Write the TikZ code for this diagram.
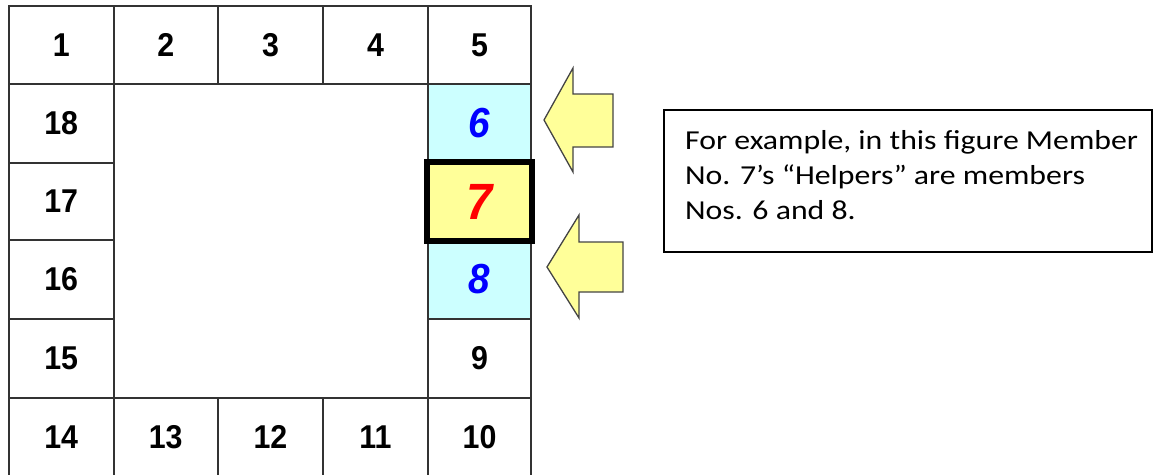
\documentclass[tikz,border=0pt]{standalone}
\usepackage{fontspec}
\setmainfont{Carlito}
\newfontfamily\digitfont[FakeStretch=0.92]{Liberation Sans}
\newfontfamily\notefont[FakeStretch=1.16]{Carlito}
\definecolor{gridline}{HTML}{333333}
\definecolor{helpercyan}{HTML}{CCFFFF}
\definecolor{paleyellow}{HTML}{FFFF99}
\definecolor{arrowedge}{HTML}{444444}
\newcommand\mycell[7]{%
  \node[cell,#7,minimum width={(#4-#2)*1pt},minimum height={(#5-#3)*1pt}]
    (#1) at ({(#2+#4)/2},{(#3+#5)/2}) {#6};}
\begin{document}
\begin{tikzpicture}[x=1pt,y=-1pt,
  cell/.style={draw=gridline,line width=2pt,inner sep=0pt,
    font=\digitfont\bfseries\fontsize{33}{33}\selectfont},
  helper/.style={fill=helpercyan,text=blue,
    font=\digitfont\bfseries\itshape\fontsize{42}{42}\selectfont},
  member/.style={fill=paleyellow,text=red,
    font=\digitfont\bfseries\itshape\fontsize{51}{51}\selectfont},
  arrowshape/.style={fill=paleyellow,draw=arrowedge,line width=1.3pt,line join=miter},
  notebox/.style={draw=black,line width=1.5pt,inner sep=0pt}]
\useasboundingbox (0,0) rectangle (1153,474);
% top row
\mycell{c1}{9}{6}{113.5}{84}{1}{}
\mycell{c2}{113.5}{6}{218}{84}{2}{}
\mycell{c3}{218}{6}{323}{84}{3}{}
\mycell{c4}{323}{6}{428}{84}{4}{}
\mycell{c5}{428}{6}{531}{84}{5}{}
% right column
\mycell{c6}{428}{84}{531}{163}{6}{helper}
\mycell{c7}{428}{163}{531}{240}{7}{member}
\mycell{c8}{428}{240}{531}{319}{8}{helper}
\mycell{c9}{428}{319}{531}{398}{9}{}
% bottom row
\mycell{c10}{428}{398}{531}{476}{10}{}
\mycell{c11}{323}{398}{428}{476}{11}{}
\mycell{c12}{218}{398}{323}{476}{12}{}
\mycell{c13}{113.5}{398}{218}{476}{13}{}
\mycell{c14}{9}{398}{113.5}{476}{14}{}
% left column
\mycell{c15}{9}{319}{113.5}{398}{15}{}
\mycell{c16}{9}{240}{113.5}{319}{16}{}
\mycell{c17}{9}{163}{113.5}{240}{17}{}
\mycell{c18}{9}{84}{113.5}{163}{18}{}
% bold frame of member 7
\draw[line width=6.5pt,black] (c7.north west) rectangle (c7.south east);
% arrows
\draw[arrowshape] (544,120) -- (573,68) -- (573,94) -- (613,94) -- (613,147)
  -- (573,147) -- (573,172) -- cycle;
\draw[arrowshape] (547,267) -- (579,215) -- (579,242) -- (623,242) -- (623,292)
  -- (579,292) -- (579,318) -- cycle;
% note
\node[notebox,minimum width=488pt,minimum height=142pt] (note) at (908,181) {};
\node[anchor=north west,align=left,inner sep=0pt,
  font=\notefont\fontsize{27.4}{35}\selectfont] (notetext) at (685,129)
  {\rule{0pt}{20pt}For example, in this figure Member\\
   No. 7’s “Helpers” are members\\
   Nos. 6 and 8.};
\end{tikzpicture}
\end{document}
